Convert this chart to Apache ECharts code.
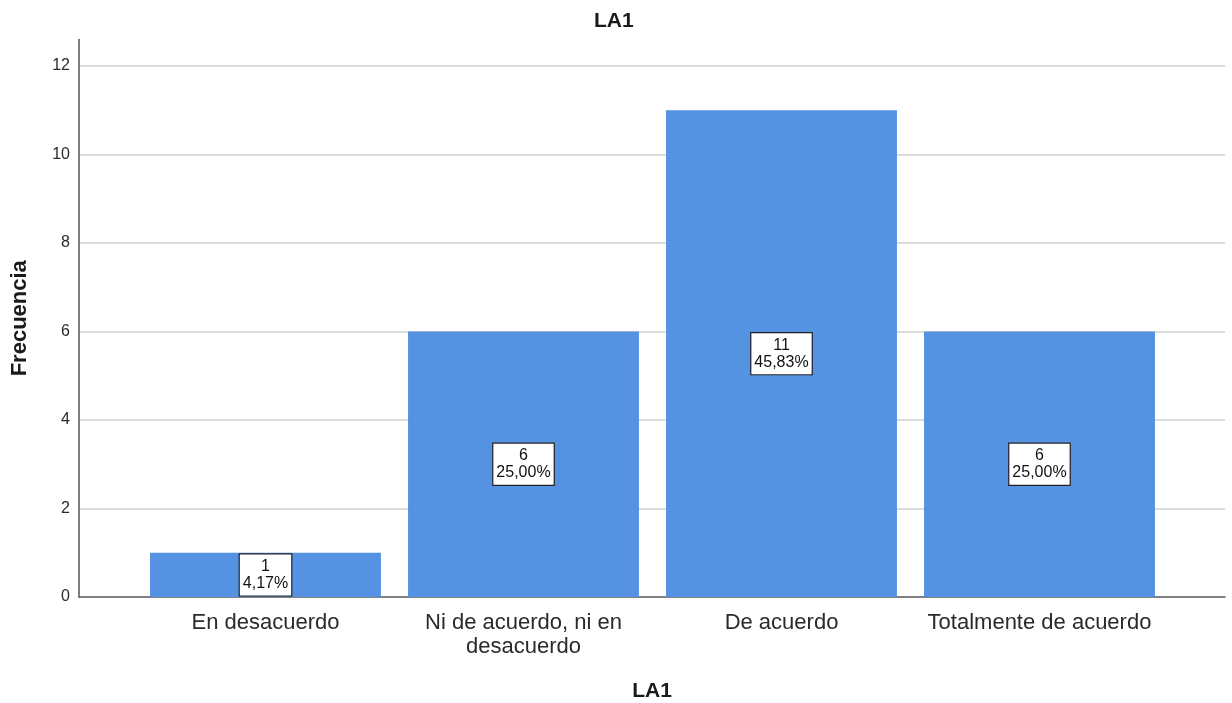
<!DOCTYPE html>
<html>
<head>
<meta charset="utf-8">
<title>LA1</title>
<script src="https://cdn.jsdelivr.net/npm/echarts@6/dist/echarts.min.js"></script>
<style>
  html, body { margin: 0; padding: 0; background: #fff; }
  #chart { width: 1232px; height: 703px; }
</style>
</head>
<body>
<div id="chart"></div>
<script>
// Response categories and their frequencies
const categories = ['En desacuerdo', 'Ni de acuerdo, ni en\ndesacuerdo', 'De acuerdo', 'Totalmente de acuerdo'];
const frequencies = [1, 6, 11, 6];
const yTicks = [0, 2, 4, 6, 8, 10, 12];

const total = frequencies.reduce((a, b) => a + b, 0);
const pct = v => (v / total * 100).toFixed(2).replace('.', ',') + '%';

const FONT = 'Liberation Sans, Arial, sans-serif';
const Y_MIN = 0, Y_MAX = 12.6;

const chart = echarts.init(document.getElementById('chart'), null, { renderer: 'canvas' });

chart.setOption({
  backgroundColor: '#ffffff',
  animation: false,
  title: {
    text: 'LA1',
    left: 589,
    top: 6,
    textStyle: { fontFamily: FONT, fontSize: 21, fontWeight: 'bold', color: '#1a1a1a' }
  },
  grid: [
    // frame: value axis, gridlines and the baseline
    { left: 79, right: 7, top: 39.5, bottom: 106, containLabel: false, outerBoundsMode: 'none' },
    // bars, inset from the frame like the categorical scale
    { left: 136.5, right: 63.5, top: 39.5, bottom: 106, containLabel: false, outerBoundsMode: 'none' }
  ],
  xAxis: [
    {
      gridIndex: 0, type: 'value', min: 0, max: 1,
      axisLine: { show: true, lineStyle: { color: '#555', width: 1.5 } },
      axisTick: { show: false }, axisLabel: { show: false }, splitLine: { show: false },
      name: 'LA1', nameLocation: 'middle', nameGap: 84,
      nameTextStyle: { fontFamily: FONT, fontSize: 21, fontWeight: 'bold', color: '#1a1a1a', padding: [0, 0, 0, 0] }
    },
    {
      gridIndex: 1, type: 'category', data: categories,
      axisLine: { show: false }, axisTick: { show: false },
      axisLabel: {
        interval: 0, margin: 14, fontFamily: FONT, fontSize: 22, lineHeight: 24, color: '#2a2a2a'
      }
    }
  ],
  yAxis: [
    {
      gridIndex: 0, type: 'value', min: Y_MIN, max: Y_MAX, interval: 2,
      axisLine: { show: true, lineStyle: { color: '#555', width: 1.5 } },
      axisTick: { show: false },
      axisLabel: {
        margin: 9, fontFamily: FONT, fontSize: 16, color: '#2a2a2a',
        formatter: v => (yTicks.includes(v) ? String(v) : '')
      },
      splitLine: { show: true, showMaxLine: false, showMinLine: false, lineStyle: { color: '#d0d0d0', width: 1.5 } },
      name: 'Frecuencia', nameLocation: 'middle', nameGap: 48, nameRotate: 90,
      nameTextStyle: { fontFamily: FONT, fontSize: 22, fontWeight: 'bold', color: '#1a1a1a' }
    },
    {
      gridIndex: 1, type: 'value', min: Y_MIN, max: Y_MAX,
      show: false, splitLine: { show: false }
    }
  ],
  series: [
    {
      type: 'bar',
      xAxisIndex: 1, yAxisIndex: 1,
      data: frequencies,
      barCategoryGap: '10.5%',
      itemStyle: { color: '#5592e2' },
      label: {
        show: true,
        position: 'inside',
        formatter: p => p.value + '\n' + pct(p.value),
        fontFamily: FONT, fontSize: 16, lineHeight: 17, color: '#111',
        backgroundColor: '#ffffff',
        borderColor: '#222', borderWidth: 1.2,
        padding: [4, 3, 3, 3]
      }
    }
  ]
});
</script>
</body>
</html>
